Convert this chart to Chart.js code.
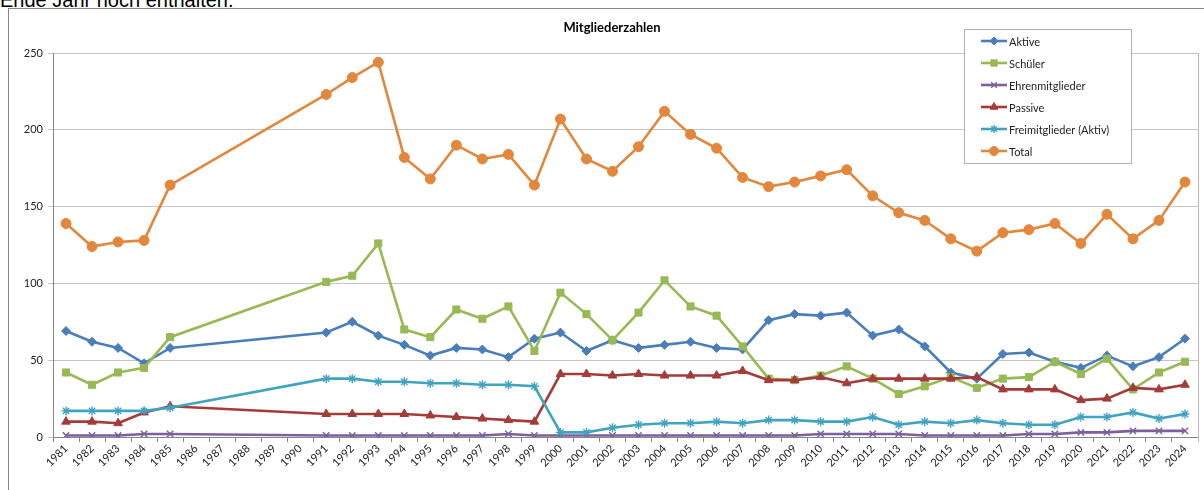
<!DOCTYPE html>
<html>
<head>
<meta charset="utf-8">
<script src="https://cdn.jsdelivr.net/npm/chart.js@4.4.1/dist/chart.umd.min.js"></script>
<style>
  html, body { margin: 0; padding: 0; background: #fff; overflow: hidden; }
  #wrap { position: relative; width: 1204px; height: 490px; }
  #note { position: absolute; left: 0; top: -10px; font: 20px "Liberation Sans", Arial, sans-serif; color: #000; line-height: 20px; white-space: nowrap; }
  #frame { position: absolute; left: 8px; top: 8px; width: 1300px; height: 600px; border: 1px solid #868686; }
  canvas { position: absolute; left: 0; top: 0; }
</style>
</head>
<body>
<div id="wrap">
  <div id="note">Ende Jahr noch enthalten.</div>
  <div id="frame"></div>
  <canvas id="myChart" width="1204" height="490"></canvas>
</div>
<script>
// years on the x axis (1986-1990 have no data)
const years = [];
for (let y = 1981; y <= 2024; y++) years.push(String(y));

const yTicks = [0, 50, 100, 150, 200, 250];

// values per year, null = no entry
const aktive = [69, 62, 58, 48, 58, null, null, null, null, null, 68, 75, 66, 60, 53, 58, 57, 52, 64, 68, 56, 63, 58, 60, 62, 58, 57, 76, 80, 79, 81, 66, 70, 59, 42, 38, 54, 55, 49, 45, 53, 46, 52, 64];
const schueler = [42, 34, 42, 45, 65, null, null, null, null, null, 101, 105, 126, 70, 65, 83, 77, 85, 56, 94, 80, 63, 81, 102, 85, 79, 59, 38, 37, 40, 46, 38, 28, 33, 39, 32, 38, 39, 49, 41, 51, 31, 42, 49];
const ehren = [1, 1, 1, 2, 2, null, null, null, null, null, 1, 1, 1, 1, 1, 1, 1, 2, 1, 1, 1, 1, 1, 1, 1, 1, 1, 1, 1, 2, 2, 2, 2, 1, 1, 1, 1, 2, 2, 3, 3, 4, 4, 4];
const passive = [10, 10, 9, 16, 20, null, null, null, null, null, 15, 15, 15, 15, 14, 13, 12, 11, 10, 41, 41, 40, 41, 40, 40, 40, 43, 37, 37, 39, 35, 38, 38, 38, 38, 39, 31, 31, 31, 24, 25, 32, 31, 34];
const frei = [17, 17, 17, 17, 19, null, null, null, null, null, 38, 38, 36, 36, 35, 35, 34, 34, 33, 3, 3, 6, 8, 9, 9, 10, 9, 11, 11, 10, 10, 13, 8, 10, 9, 11, 9, 8, 8, 13, 13, 16, 12, 15];
const total = [139, 124, 127, 128, 164, null, null, null, null, null, 223, 234, 244, 182, 168, 190, 181, 184, 164, 207, 181, 173, 189, 212, 197, 188, 169, 163, 166, 170, 174, 157, 146, 141, 129, 121, 133, 135, 139, 126, 145, 129, 141, 166];

const seriesNames = ['Aktive', 'Schüler', 'Ehrenmitglieder', 'Passive', 'Freimitglieder (Aktiv)', 'Total'];
const seriesData = [aktive, schueler, ehren, passive, frei, total];
const colors = ['#4A7EBB', '#98B954', '#7D5FA0', '#A33C39', '#40A4C0', '#E2873B'];
const markers = ['rectRot', 'rect', 'crossRot', 'triangle', 'star', 'circle'];
const radii = [4.5, 5, 4.5, 5, 4.5, 5];

const datasets = seriesNames.map((name, i) => ({
    label: name,
    data: seriesData[i],
    borderColor: colors[i],
    backgroundColor: colors[i],
    borderWidth: 2.6,
    pointStyle: markers[i],
    pointRadius: radii[i],
    pointBorderWidth: (markers[i] === 'crossRot' || markers[i] === 'star') ? 1.4 : 1,
    pointBorderColor: colors[i],
    pointBackgroundColor: colors[i],
    tension: 0,
    spanGaps: true,
    order: seriesNames.length - i,
}));

// title, right plot border and legend box drawn by hand to sit where the original has them
const boxPlugin = {
    id: 'boxPlugin',
    beforeDatasetsDraw(chart) {
        const ctx = chart.ctx;
        const a = chart.chartArea;
        ctx.save();
        ctx.strokeStyle = '#b8b8b8';
        ctx.lineWidth = 1;
        ctx.beginPath();
        ctx.moveTo(Math.round(a.right) + 0.5, a.top);
        ctx.lineTo(Math.round(a.right) + 0.5, a.bottom + 5);
        ctx.stroke();
        ctx.restore();
    },
    afterDraw(chart) {
        const ctx = chart.ctx;
        ctx.save();
        ctx.fillStyle = '#000';
        ctx.font = 'bold 13px Lato, "Open Sans", sans-serif';
        ctx.textAlign = 'center';
        ctx.textBaseline = 'middle';
        ctx.fillText('Mitgliederzahlen', 612, 28);

        const bx = 964.5, by = 29.5, bw = 167, bh = 134;
        ctx.fillStyle = '#fff';
        ctx.fillRect(bx, by, bw, bh);
        ctx.strokeStyle = '#b0b0b0';
        ctx.lineWidth = 1;
        ctx.strokeRect(bx, by, bw, bh);

        ctx.font = '11px Lato, "Open Sans", sans-serif';
        ctx.textAlign = 'left';
        seriesNames.forEach((name, i) => {
            const y = 41 + 22 * i;
            ctx.strokeStyle = colors[i];
            ctx.lineWidth = 2.6;
            ctx.beginPath();
            ctx.moveTo(981, y);
            ctx.lineTo(1007, y);
            ctx.stroke();
            ctx.fillStyle = colors[i];
            ctx.lineWidth = (markers[i] === 'crossRot' || markers[i] === 'star') ? 1.4 : 1;
            Chart.helpers.drawPoint(ctx, { pointStyle: markers[i], radius: radii[i] - 0.5, borderWidth: 1 }, 994, y);
            ctx.fillStyle = '#222';
            ctx.fillText(name, 1009, y + 1);
        });
        ctx.restore();
    }
};

new Chart(document.getElementById('myChart'), {
    type: 'line',
    data: { labels: years, datasets: datasets },
    options: {
        responsive: false,
        animation: false,
        layout: { padding: { left: 0, right: 5, top: 53, bottom: 0 } },
        plugins: {
            legend: { display: false },
            title: { display: false },
            tooltip: { enabled: false },
        },
        scales: {
            x: {
                type: 'category',
                offset: true,
                grid: {
                    display: true,
                    offset: true,
                    drawOnChartArea: false,
                    drawTicks: true,
                    tickLength: 5,
                    color: '#868686',
                },
                border: { display: true, color: '#868686' },
                ticks: {
                    autoSkip: false,
                    maxRotation: 45,
                    minRotation: 45,
                    color: '#222',
                    font: { size: 11, family: 'Lato, "Open Sans", sans-serif' },
                    padding: 0,
                },
                afterFit(axis) { axis.height = 53; },
            },
            y: {
                min: 0,
                max: 250,
                afterBuildTicks(axis) { axis.ticks = yTicks.map(v => ({ value: v })); },
                grid: {
                    color: '#c4c4c4',
                    lineWidth: 1,
                    drawTicks: true,
                    tickLength: 5,
                },
                border: { display: true, color: '#868686' },
                ticks: {
                    color: '#222',
                    padding: 5,
                    font: { size: 11, family: 'Lato, "Open Sans", sans-serif' },
                },
                afterFit(axis) { axis.width = 53; },
            },
        },
    },
    plugins: [boxPlugin],
});
</script>
</body>
</html>
